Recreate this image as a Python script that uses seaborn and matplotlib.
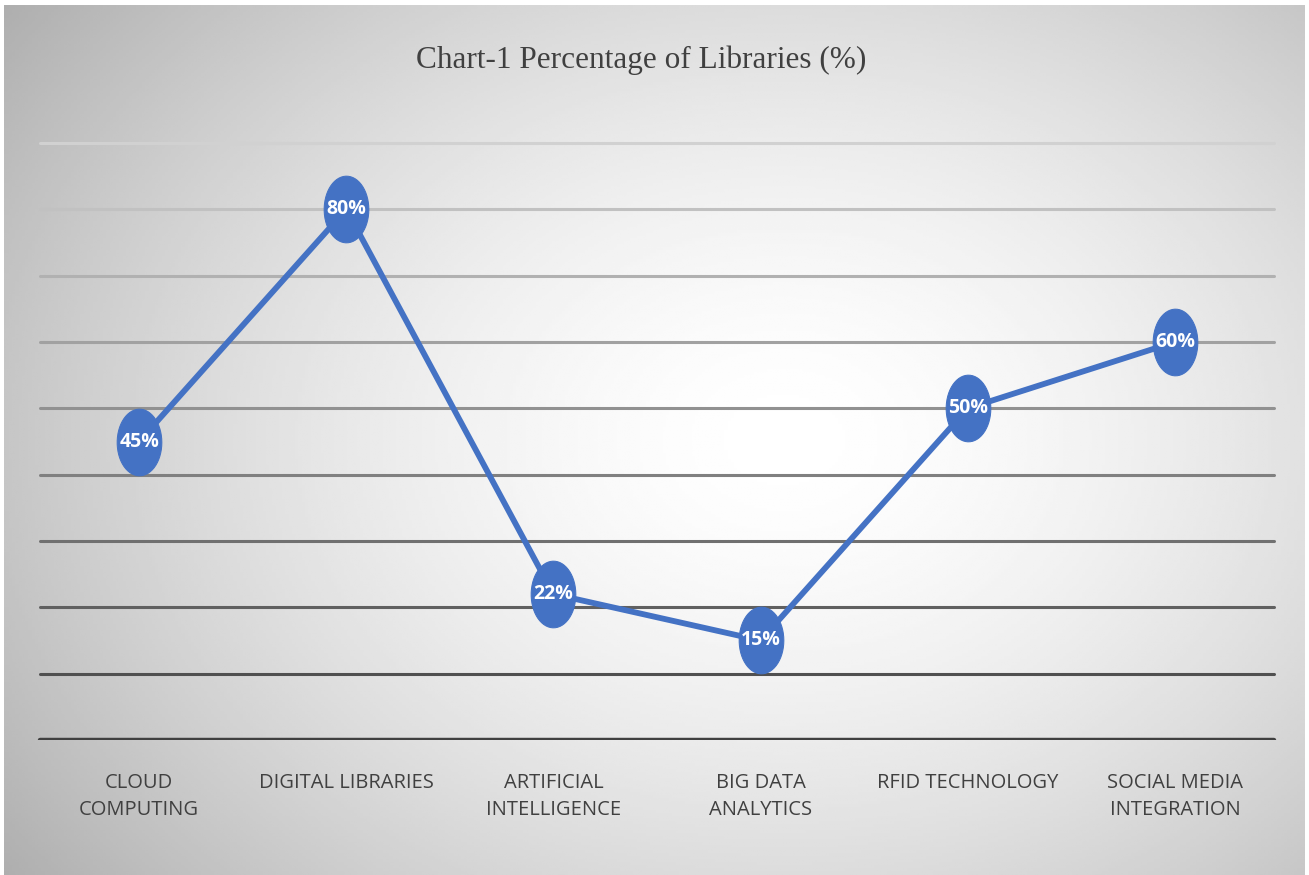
import numpy as np
import pandas as pd
import matplotlib
matplotlib.use("Agg")
import matplotlib.pyplot as plt
from matplotlib.path import Path
import seaborn as sns

# data
categories = ["CLOUD\nCOMPUTING", "DIGITAL LIBRARIES", "ARTIFICIAL\nINTELLIGENCE",
              "BIG DATA\nANALYTICS", "RFID TECHNOLOGY", "SOCIAL MEDIA\nINTEGRATION"]
percentages = [45, 80, 22, 15, 50, 60]
grid_levels = [0, 10, 20, 30, 40, 50, 60, 70, 80, 90]
title = "Chart-1 Percentage of Libraries (%)"

df = pd.DataFrame({"category": categories, "pct": percentages})

sns.set_style("white")
plt.rcParams["font.family"] = ["Open Sans", "DejaVu Sans"]

fig = plt.figure(figsize=(13.09, 8.75), dpi=100, facecolor="white")

# radial grey gradient background
bg = fig.add_axes([4 / 1309, 0, 1 - 8 / 1309, 1 - 5 / 875], zorder=-5)
gx, gy = np.meshgrid(np.linspace(0, 1, 400), np.linspace(0, 1, 300))
r = np.sqrt(((gx - 0.6) / 0.75) ** 2 + ((gy - 0.5) / 0.85) ** 2)
shade = np.clip(1.0 - 0.32 * r ** 1.6, 0, 1)
bg.imshow(shade, cmap="gray", vmin=0, vmax=1, aspect="auto", extent=[0, 1, 0, 1])
bg.axis("off")

# plot area
ax = fig.add_axes([35.5 / 1309, 0.1543, 1243 / 1309, 0.6974])
ax.patch.set_alpha(0)
for s in ax.spines.values():
    s.set_visible(False)

# grid lines, darker towards the bottom
for i, lvl in enumerate(grid_levels):
    t = i / (len(grid_levels) - 1)
    g = 0.25 + 0.57 * t
    ax.axhline(lvl, xmin=0.004, xmax=0.996, color=(g, g, g),
               lw=3.2 if lvl == 0 else 2.2, zorder=1)

# ellipse marker (taller than wide)
th = np.linspace(0, 2 * np.pi, 60)
ellipse = Path(np.column_stack([0.67 * np.cos(th), np.sin(th)]), closed=True)

sns.lineplot(data=df, x="category", y="pct", ax=ax, sort=False,
             color="#4472C4", lw=4.2, marker=ellipse, markersize=48,
             markeredgecolor="#4472C4", zorder=3)

for i, v in enumerate(percentages):
    ax.text(i, v, f"{v}%", ha="center", va="center", color="white",
            fontsize=14, fontweight="bold", zorder=5)

ax.set_xlim(-0.5, len(categories) - 0.5)
ax.set_ylim(0, 92)
ax.set_yticks([])
ax.set_xlabel("")
ax.set_ylabel("")
ax.tick_params(axis="x", length=0, pad=24, labelsize=14.5, labelcolor="#404040")
for lab in ax.get_xticklabels():
    lab.set_linespacing(1.45)

fig.text(0.49, 0.931, title, ha="center", va="center", fontsize=22.5,
         family="Liberation Serif", color="#404040")

fig.savefig("out.png", dpi=100)
